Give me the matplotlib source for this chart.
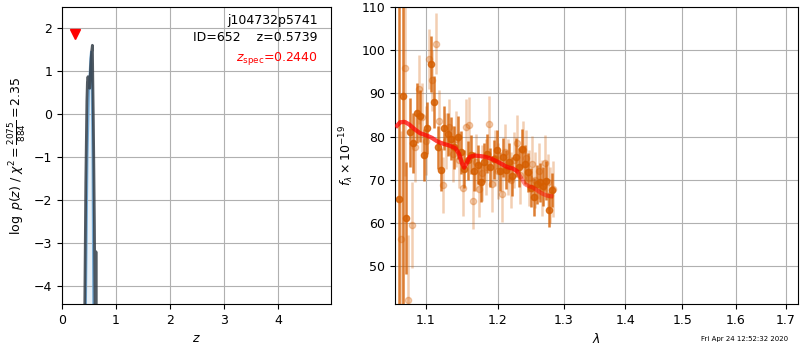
import numpy as np
import matplotlib
matplotlib.use("Agg")
import matplotlib.pyplot as plt

plt.rcParams['font.size'] = 9

# redshift probability curves
z_pdf = [0.420, 0.440, 0.460, 0.470, 0.481, 0.495, 0.513, 0.530, 0.548, 0.562,
         0.572, 0.580, 0.590, 0.600, 0.611, 0.622, 0.628, 0.634]
logp_pdf = [-4.6, -1.6, 0.3, 0.75, 0.87, 0.70, 0.60, 1.10, 1.45, 1.60,
            0.60, -0.14, -1.30, -2.60, -4.60, -4.60, -3.20, -4.60]
z_tmpl = [0.440, 0.470, 0.500, 0.525, 0.537, 0.550, 0.565, 0.580]
logp_tmpl = [-4.6, -1.0, 0.60, 1.30, 1.45, 0.80, -1.0, -4.6]
z_spec = 0.2440
z_best = 0.5739
obj_name = 'j104732p5741'
obj_id = 652

# spectrum, first position angle
wave_a = [1.0650, 1.0696, 1.0742, 1.0788, 1.0834, 1.0880, 1.0926, 1.0972, 1.1018, 1.1064,
          1.1110, 1.1156, 1.1202, 1.1248, 1.1294, 1.1340, 1.1386, 1.1432, 1.1478, 1.1524,
          1.1570, 1.1616, 1.1662, 1.1708, 1.1754, 1.1800, 1.1846, 1.1892, 1.1938, 1.1984,
          1.2030, 1.2076, 1.2122, 1.2168, 1.2214, 1.2260, 1.2306, 1.2352, 1.2398, 1.2444,
          1.2490, 1.2536, 1.2582, 1.2628, 1.2674, 1.2720, 1.2766, 1.2812]
flux_a = [65.5, 89.5, 61.2, 81.0, 78.5, 85.5, 84.8, 75.8, 82.0, 96.8,
          88.0, 77.5, 72.3, 82.0, 80.5, 79.5, 77.5, 79.8, 76.4, 72.5,
          74.5, 75.8, 72.0, 73.5, 69.4, 74.0, 76.0, 72.9, 74.7, 77.0,
          72.0, 75.2, 72.3, 74.0, 70.8, 75.2, 72.9, 77.2, 73.6, 71.7,
          68.2, 66.0, 69.0, 69.4, 68.5, 69.8, 63.0, 67.6]
err_a = [60.0, 60.0, 13.0, 8.0, 7.0, 7.0, 6.0, 6.0, 6.0, 6.5,
         6.0, 5.0, 5.0, 5.0, 5.0, 5.0, 5.0, 5.0, 5.0, 4.5,
         4.5, 4.5, 4.5, 4.5, 4.5, 4.5, 4.5, 4.5, 4.5, 4.5,
         4.5, 4.5, 4.5, 4.5, 4.5, 4.5, 4.5, 4.5, 4.5, 4.5,
         4.5, 4.5, 4.5, 4.5, 4.5, 4.5, 4.0, 4.0]

# spectrum, second position angle
wave_b = [1.0673, 1.0719, 1.0765, 1.0811, 1.0857, 1.0903, 1.0949, 1.0995, 1.1041, 1.1087,
          1.1133, 1.1179, 1.1225, 1.1271, 1.1317, 1.1363, 1.1409, 1.1455, 1.1501, 1.1547,
          1.1593, 1.1639, 1.1685, 1.1731, 1.1777, 1.1823, 1.1869, 1.1915, 1.1961, 1.2007,
          1.2053, 1.2099, 1.2145, 1.2191, 1.2237, 1.2283, 1.2329, 1.2375, 1.2421, 1.2467,
          1.2513, 1.2559, 1.2605, 1.2651, 1.2697, 1.2743, 1.2789, 1.2835]
flux_b = [56.3, 95.8, 42.1, 59.5, 77.5, 91.0, 84.5, 79.0, 98.0, 93.0,
          101.5, 83.7, 68.8, 79.0, 82.2, 76.0, 79.5, 74.5, 68.2, 82.2,
          82.7, 65.1, 74.0, 67.8, 71.5, 73.0, 82.8, 69.0, 75.0, 72.0,
          66.7, 76.5, 73.0, 70.0, 74.5, 78.5, 71.0, 77.0, 75.0, 70.5,
          73.6, 70.0, 72.0, 68.0, 73.8, 69.5, 66.5, 67.8]
err_b = [25.0, 25.0, 15.0, 10.0, 8.0, 8.0, 8.0, 8.0, 7.0, 7.0,
         7.0, 7.0, 6.5, 6.5, 6.5, 6.5, 6.5, 6.5, 6.5, 6.5,
         6.5, 6.5, 6.5, 6.5, 6.5, 6.5, 6.5, 6.5, 6.5, 6.5,
         6.5, 6.5, 6.5, 6.5, 6.5, 6.5, 6.5, 6.5, 6.5, 6.5,
         6.5, 6.5, 6.5, 6.5, 6.5, 6.5, 6.5, 6.5]

# best-fit model
wave_m = [1.062, 1.066, 1.072, 1.078, 1.085, 1.092, 1.100, 1.108, 1.116, 1.124,
          1.132, 1.140, 1.145, 1.149, 1.152, 1.156, 1.160, 1.166, 1.174, 1.182,
          1.190, 1.198, 1.206, 1.214, 1.222, 1.228, 1.234, 1.240, 1.246, 1.252,
          1.258, 1.266, 1.274, 1.280]
flux_m = [82.5, 83.3, 83.4, 82.8, 81.7, 80.8, 80.3, 79.7, 78.8, 78.3,
          77.9, 77.3, 76.0, 73.8, 72.8, 74.0, 75.3, 75.6, 75.5, 75.3,
          74.9, 74.3, 73.6, 72.9, 72.6, 72.0, 70.5, 69.0, 68.5, 68.2,
          67.6, 66.8, 66.3, 66.2]
overlap_max = 1.228

grism_color = (0.835, 0.369, 0.0)

fig = plt.figure(figsize=(8, 3.5), dpi=100)
ax1 = fig.add_axes([0.0775, 0.131, 0.3365, 0.849])
ax2 = fig.add_axes([0.494, 0.131, 0.5035, 0.849])

# p(z)
ax1.fill_between(z_tmpl, logp_tmpl, -5, color='#a6c8e6', alpha=0.25)
ax1.plot(z_tmpl, logp_tmpl, color='#6aa2d0', lw=1.5, alpha=0.9)
ax1.plot(z_pdf, logp_pdf, color='#333d47', lw=2, alpha=0.85)
ax1.plot(z_spec, 1.87, 'v', color='red', ms=7)
ax1.text(0.95, 0.975, obj_name, ha='right', va='top', transform=ax1.transAxes)
ax1.text(0.95, 0.92, 'ID={0}    z={1:.4f}'.format(obj_id, z_best),
         ha='right', va='top', transform=ax1.transAxes)
ax1.text(0.95, 0.855, r'$z_\mathrm{spec}$' + '={0:.4f}'.format(z_spec),
         ha='right', va='top', color='red', transform=ax1.transAxes)
ax1.set_xlim(0, 4.98)
ax1.set_ylim(-4.42, 2.49)
ax1.set_xticks([0, 1, 2, 3, 4])
ax1.set_xlabel(r'$z$')
ax1.set_ylabel(r'$\log\ p(z)$ / $\chi^2=\frac{2075}{884}=2.35$')
ax1.grid()

# spectrum
ax2.errorbar(wave_b, flux_b, err_b, marker='o', ms=4.5, linestyle='None',
             color=grism_color, alpha=0.3, elinewidth=1.8)
ax2.errorbar(wave_a, flux_a, err_a, marker='o', ms=4.5, linestyle='None',
             color=grism_color, alpha=0.8, elinewidth=1.8)
wm = np.array(wave_m)
fm = np.array(flux_m)
ax2.plot(wm, fm, color='red', lw=3, alpha=0.45, zorder=5)
sel = wm <= overlap_max
ax2.plot(wm[sel], fm[sel], color='red', lw=3, alpha=0.5, zorder=5)
ax2.set_xscale('log')
ax2.set_xlim(1.0598, 1.7255)
ax2.set_xticks([1.1, 1.2, 1.3, 1.4, 1.5, 1.6, 1.7])
ax2.set_xticklabels(['1.1', '1.2', '1.3', '1.4', '1.5', '1.6', '1.7'])
ax2.xaxis.set_minor_locator(matplotlib.ticker.NullLocator())
ax2.set_ylim(41.2, 110)
ax2.set_xlabel(r'$\lambda$')
ax2.set_ylabel(r'$f_\lambda\times10^{-19}$')
ax2.grid()

fig.text(0.985, 0.031, 'Fri Apr 24 12:52:32 2020', ha='right', va='center', fontsize=5)

fig.savefig('out.png', dpi=100)
